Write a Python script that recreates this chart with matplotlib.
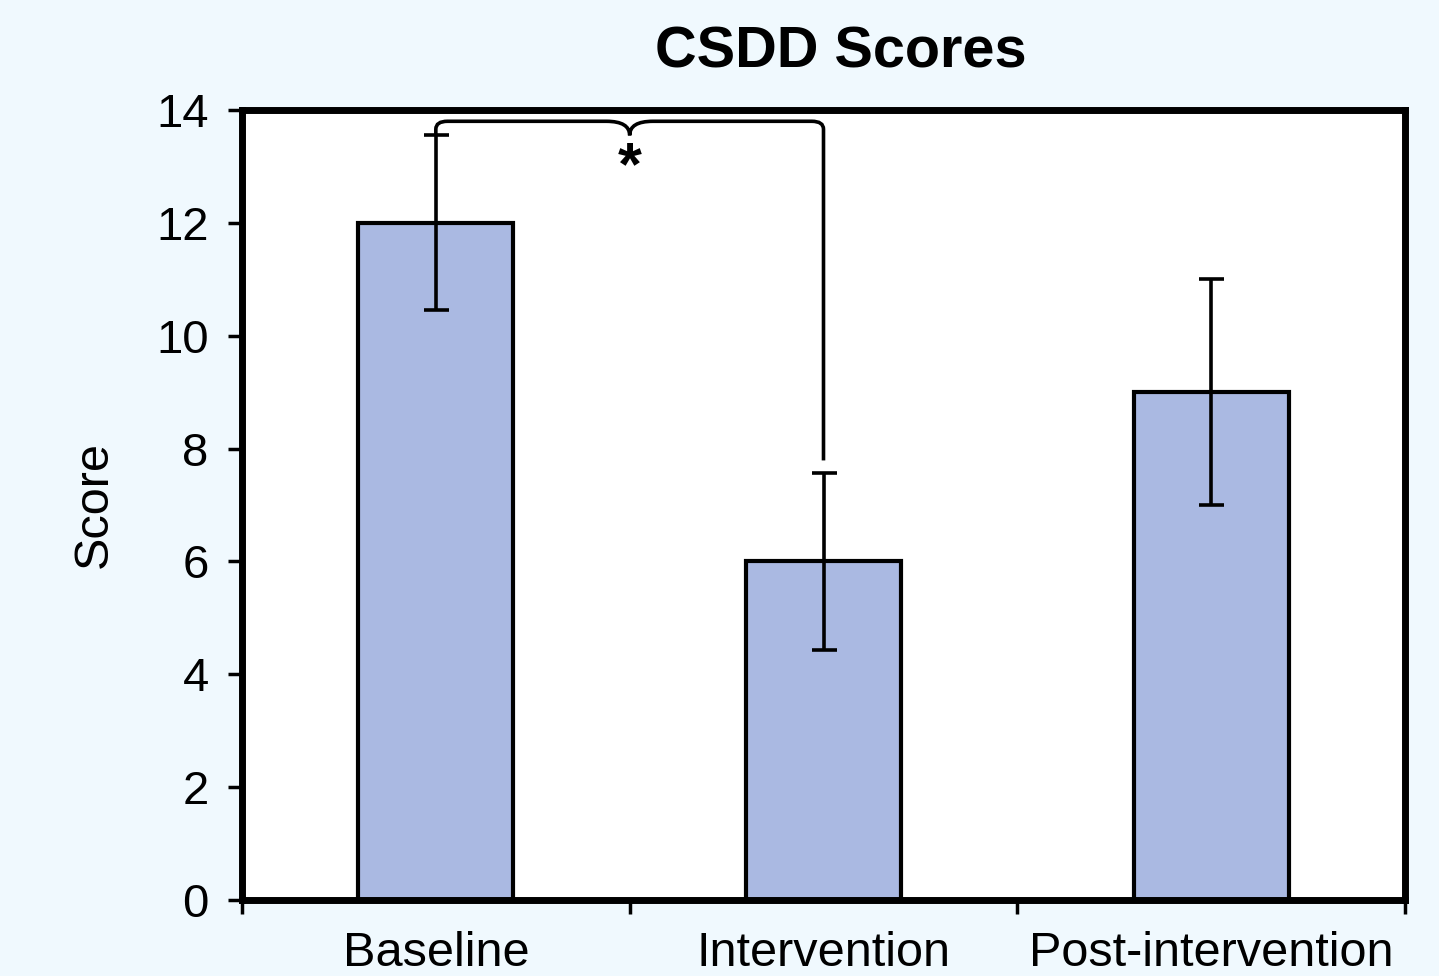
import matplotlib
matplotlib.use("Agg")
import matplotlib.pyplot as plt
from matplotlib.path import Path
from matplotlib.patches import PathPatch
import numpy as np

categories = ["Baseline", "Intervention", "Post-intervention"]
means = [12.0, 6.0, 9.0]
errors = [1.55, 1.57, 2.0]
yticks = [0, 2, 4, 6, 8, 10, 12, 14]
title = "CSDD Scores"
ylabel = "Score"
sig_label = "*"

plt.rcParams['font.family'] = ['Liberation Sans', 'DejaVu Sans']

bg = '#F0F9FE'
fig = plt.figure(figsize=(14.39, 9.76), dpi=100, facecolor=bg)
ax = fig.add_axes([242/1439, 76/976, (1405-242)/1439, (900-110)/976])
ax.set_facecolor('white')

x = np.arange(len(categories)) + 0.5
ax.bar(x, means, width=0.4, color='#AAB9E2', edgecolor='black', linewidth=3, zorder=2)
ax.errorbar(x, means, yerr=errors, fmt='none', ecolor='black', elinewidth=2.6,
            capsize=9, capthick=2.6, zorder=3)

ax.set_xlim(0, len(categories))
ax.set_ylim(0, 14)
ax.set_yticks(yticks)
ax.set_xticks(np.arange(len(categories) + 1))
ax.set_xticklabels([])
ax.set_xticks(x, minor=True)
ax.set_xticklabels(categories, minor=True)
ax.tick_params(axis='x', which='minor', length=0, pad=22, labelsize=35)
ax.tick_params(axis='x', which='major', length=10, width=2.5, direction='out')
ax.tick_params(axis='y', length=10, width=2.5, direction='out', pad=14, labelsize=34)
for s in ax.spines.values():
    s.set_linewidth(5)
    s.set_zorder(5)

ax.set_ylabel(ylabel, fontsize=35, labelpad=28)
fig.text(841/1439, 924/976, title, fontsize=41.5, fontweight='bold', ha='center', va='center')

# significance brace between Baseline and Intervention
x0, x1 = x[0], x[1]
xm = (x0 + x1) / 2
ytop = means[0] + errors[0] + 0.25
ytip = means[0] + errors[0]
yend = means[1] + errors[1] + 0.22
r = 0.03   # corner radius in x units
ry = 0.14
w = 0.06
verts = [
    (x0, ytip), (x0, ytop - ry), (x0, ytop), (x0 + r, ytop),
    (xm - w, ytop), (xm, ytop), (xm, ytip),
    (xm, ytop), (xm + w, ytop),
    (x1 - r, ytop), (x1, ytop), (x1, ytop - ry),
    (x1, yend),
]
codes = [Path.MOVETO, Path.LINETO, Path.CURVE3, Path.CURVE3,
         Path.LINETO, Path.CURVE3, Path.CURVE3,
         Path.CURVE3, Path.CURVE3,
         Path.LINETO, Path.CURVE3, Path.CURVE3,
         Path.LINETO]
ax.add_patch(PathPatch(Path(verts, codes), facecolor='none', edgecolor='black', lw=2.6, zorder=4))
ax.text(xm, ytip - 0.08, sig_label, ha='center', va='top', fontsize=44, fontweight='bold')

fig.savefig("out.png", dpi=100, facecolor=bg)
